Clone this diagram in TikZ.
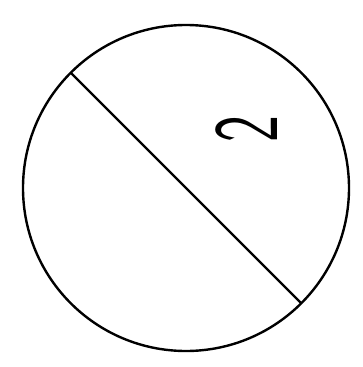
\documentclass[tikz,border=0pt]{standalone}
\usepackage{tikz}

\begin{document}
\begin{tikzpicture}[x=1pt,y=-1pt,
  every node/.style={inner sep=0pt,outer sep=0pt},
  disc/.style={draw,circle,line width=2.4pt,minimum size=326pt},
  label2/.style={font=\sffamily\fontsize{92}{92}\selectfont}]
  \useasboundingbox (0,0) rectangle (363,367);
  \node[disc] (disc) at (186,188) {};
  \draw[line width=2.4pt] (disc.135) -- (disc.-45);
  \node[label2,rotate=90,xscale=0.62] (two) at (247,129) {2};
\end{tikzpicture}
\end{document}
